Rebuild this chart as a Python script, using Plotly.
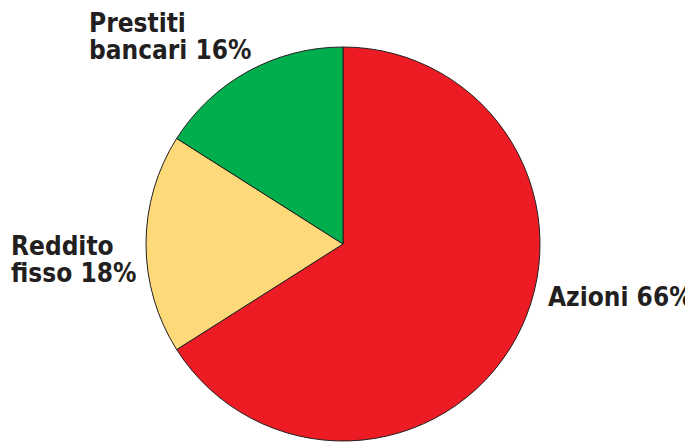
import plotly.graph_objects as go

labels = ["Azioni", "Reddito fisso", "Prestiti bancari"]
values = [66, 18, 16]
colors = ["#ED1C24", "#FDD97A", "#00AE4D"]
# label lines (split of label text) and pixel anchor of first line
label_lines = [["Azioni"], ["Reddito", "fisso"], ["Prestiti", "bancari"]]
label_pos = [(549, 297), (12, 246), (90, 23)]

W, H = 693, 442
OFF = 8  # page body margin
def px(x):
    return (x - OFF) / W
def py(y):
    return 1 - (y - OFF) / H

fig = go.Figure(go.Pie(
    labels=labels, values=values, sort=False, direction="clockwise", rotation=0,
    marker=dict(colors=colors, line=dict(color="#231F20", width=1)),
    textinfo="none", hoverinfo="label+percent", showlegend=False,
    domain=dict(x=[px(145), px(541)], y=[py(441), py(47)]),
))

FONT = dict(family="DejaVu Sans Condensed, Liberation Sans Narrow, sans-serif", size=26, color="#231F20")
LINE_H = 26.5
annotations = []
for lab, v, lines, (x0, y0) in zip(labels, values, label_lines, label_pos):
    for i, ln in enumerate(lines):
        txt = ln + (f" {v}%" if i == len(lines) - 1 else "")
        annotations.append(dict(
            text=f"<b>{txt}</b>", x=px(x0 - 3), y=py(y0 + i * LINE_H), xref="paper", yref="paper",
            xanchor="left", yanchor="middle", showarrow=False, font=FONT,
        ))

fig.update_layout(
    width=W, height=H, margin=dict(l=0, r=0, t=0, b=0),
    paper_bgcolor="white", plot_bgcolor="white", annotations=annotations,
)
fig.write_html("out.html")
